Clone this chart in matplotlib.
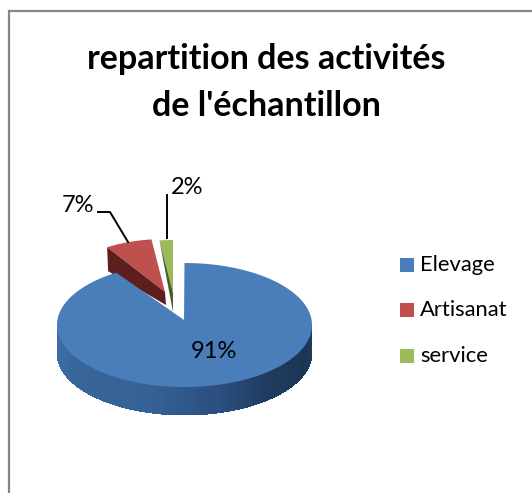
import numpy as np
import matplotlib
matplotlib.use("Agg")
import matplotlib.pyplot as plt
from matplotlib.colors import to_rgb
from matplotlib.patches import Polygon, Rectangle

title = "repartition des activités\nde l'échantillon"
categories = ["Elevage", "Artisanat", "service"]
shares = [91, 7, 2]

TOP_COLORS = ["#4a7ebb", "#c0504d", "#9bbb59"]
SIDE_COLORS = [None, "#5c1f1d", "#4c5e28"]

# everything below is in image pixels
W, H = 532, 493
CX, CY, RX, RY = 184.5, 325, 127.5, 62
DEPTH = 28


def rim(start, end, cx, cy, rx, ry, n=120):
    ang = np.radians(np.linspace(start, end, n))
    return np.column_stack([cx + rx * np.cos(ang), cy - ry * np.sin(ang)])


def wall_color(angle):
    # lighter on the left of the wall, dark towards the right
    stops_a = [180, 215, 255, 285, 310, 340, 360]
    stops_c = ["#3f70a9", "#386699", "#346196", "#2b4f7e", "#1f3c5f", "#1b3554", "#1e3d60"]
    rgb = np.array([to_rgb(c) for c in stops_c])
    return [np.interp(angle, stops_a, rgb[:, i]) for i in range(3)]


plt.rcParams["font.family"] = ["Lato", "DejaVu Sans"]

fig = plt.figure(figsize=(W / 100, H / 100), dpi=100)
ax = fig.add_axes([0, 0, 1, 1])
ax.set_xlim(0, W)
ax.set_ylim(H, 0)
ax.axis("off")

# frame, only top and left fall inside the crop
ax.plot([8.5, 8.5, W], [H, 10.5, 10.5], color="#868686", lw=1.6, solid_joinstyle="miter")

# slice angles, clockwise from 12 o'clock
fractions = np.array(shares) / sum(shares)
edges = 90 - 360 * np.concatenate([[0], np.cumsum(fractions)])

# pulled out slices are drawn smaller, as in the perspective of the original
apexes = [None, (165, 292), (173, 293)]
for i in (1, 2):
    ax_, ay_ = apexes[i]
    pts = rim(edges[i], edges[i + 1], ax_, ay_, 108, 53, n=30)
    first = pts[0]
    if i == 1:
        side = [first, (ax_, ay_), (ax_ + 1, ay_ + 13), (first[0] + 1, first[1] + 24)]
    else:
        side = [first, (ax_, ay_), (ax_, ay_ + 19)]
    ax.add_patch(Polygon(np.vstack([[(ax_, ay_)], pts]), closed=True, fc=TOP_COLORS[i], ec="none", zorder=2))
    ax.add_patch(Polygon(side, closed=True, fc=SIDE_COLORS[i], ec="none", zorder=3))

# wall of the main slice
angles = np.linspace(180, 360, 181)
for a0, a1 in zip(angles[:-1], angles[1:]):
    p = rim(a0, a1 + 1.2, CX, CY, RX, RY, n=2)
    quad = [p[0], p[1], (p[1][0], p[1][1] + DEPTH), (p[0][0], p[0][1] + DEPTH)]
    ax.add_patch(Polygon(quad, closed=True, fc=wall_color(a0), ec="none", zorder=4, antialiased=False))

# top of the main slice
top = rim(edges[0], edges[1], CX, CY, RX, RY, n=300)
ax.add_patch(Polygon(np.vstack([[(184, 320)], top]), closed=True, fc=TOP_COLORS[0], ec="none", zorder=5))

# value labels and their leader lines
label_pos = [(214, 352), (78, 205), (187, 187)]
for share, (x, y) in zip(shares, label_pos):
    ax.text(x, y, f"{share}%", fontsize=17, ha="center", va="center", color="black", zorder=6)
ax.plot([98, 110, 128], [212, 212, 242], color="black", lw=1.4, zorder=6)
ax.plot([166.5, 166.5], [195, 238], color="black", lw=1.4, zorder=6)

ax.text(266, 82.5, title, fontsize=24.5, fontweight="bold", ha="center", va="center",
        color="black", linespacing=1.55)

# legend
legend_y = [265, 310, 355.5]
for name, color, y in zip(categories, TOP_COLORS, legend_y):
    ax.add_patch(Rectangle((400, y - 7), 14, 14, fc=color, ec="none"))
    ax.text(420, y, name, fontsize=15.8, va="center", ha="left", color="black")

fig.savefig("out.png", dpi=100, facecolor="white")
